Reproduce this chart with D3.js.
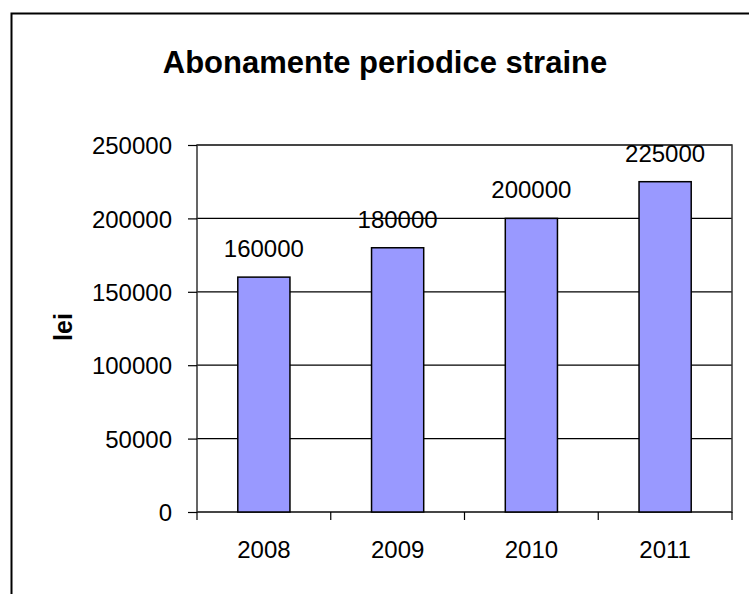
<!DOCTYPE html>
<html>
<head>
<meta charset="utf-8">
<script src="https://cdn.jsdelivr.net/npm/d3@7"></script>
<style>
  body { margin: 0; background: #fff; }
  text { font-family: "Liberation Sans", Arial, sans-serif; }
</style>
</head>
<body>
<div id="chart"></div>
<script>
// data
var years = ["2008", "2009", "2010", "2011"];
var values = [160000, 180000, 200000, 225000];
var yTicks = [0, 50000, 100000, 150000, 200000, 250000];

var W = 749, H = 594;
var margin = {top: 145, right: 17, bottom: 82, left: 197};
var width = W - margin.left - margin.right,
    height = H - margin.top - margin.bottom;

var svg = d3.select("#chart").append("svg")
  .attr("width", W)
  .attr("height", H);

// outer chart border (runs off the right/bottom edge)
svg.append("rect")
  .attr("x", 11.5).attr("y", 13.5)
  .attr("width", W + 20).attr("height", H + 20)
  .attr("fill", "none").attr("stroke", "#000").attr("stroke-width", 2);

// title
svg.append("text")
  .attr("x", 385).attr("y", 73)
  .attr("text-anchor", "middle")
  .attr("font-size", 31).attr("font-weight", "bold")
  .text("Abonamente periodice straine");

var g = svg.append("g")
  .attr("transform", "translate(" + margin.left + "," + margin.top + ")");

var x = d3.scaleBand().domain(years).range([0, width])
  .paddingInner(0.61).paddingOuter(0.305);
var y = d3.scaleLinear().domain([0, 250000]).range([height, 0]);

// gridlines
g.selectAll(".grid").data(yTicks).enter().append("line")
  .attr("x1", 0).attr("x2", width)
  .attr("y1", function(d) { return y(d); })
  .attr("y2", function(d) { return y(d); })
  .attr("stroke", "#000").attr("stroke-width", 1.2);

// plot area border
g.append("rect")
  .attr("width", width).attr("height", height)
  .attr("fill", "none").attr("stroke", "#333").attr("stroke-width", 1.5);

// bars
g.selectAll(".bar").data(values).enter().append("rect")
  .attr("x", function(d, i) { return x(years[i]); })
  .attr("y", function(d) { return y(d); })
  .attr("width", x.bandwidth())
  .attr("height", function(d) { return height - y(d); })
  .attr("fill", "#9999ff").attr("stroke", "#000").attr("stroke-width", 1.5);

// data labels
g.selectAll(".lbl").data(values).enter().append("text")
  .attr("x", function(d, i) { return x(years[i]) + x.bandwidth() / 2; })
  .attr("y", function(d) { return y(d) - 20; })
  .attr("text-anchor", "middle")
  .attr("font-size", 24)
  .text(function(d) { return d; });

// y axis
var yAxis = g.append("g")
  .call(d3.axisLeft(y).tickValues(yTicks).tickSize(9).tickPadding(16)
    .tickFormat(function(d) { return d; }));
yAxis.select(".domain").remove();
yAxis.selectAll("line").attr("stroke", "#000").attr("stroke-width", 1.2);
yAxis.selectAll("text").attr("font-size", 24).attr("fill", "#000")
  .attr("dy", "0.36em");

// x axis
var xAxis = g.append("g")
  .attr("transform", "translate(0," + height + ")")
  .call(d3.axisBottom(x).tickSize(0).tickPadding(29));
xAxis.select(".domain").remove();
xAxis.selectAll("text").attr("font-size", 24).attr("fill", "#000");

// x tick marks between categories
var sep = d3.range(years.length + 1).map(function(i) { return i * width / years.length; });
g.selectAll(".xt").data(sep).enter().append("line")
  .attr("x1", function(d) { return d; }).attr("x2", function(d) { return d; })
  .attr("y1", height).attr("y2", height + 8)
  .attr("stroke", "#000").attr("stroke-width", 1.2);

// y axis label
svg.append("text")
  .attr("transform", "translate(72,327) rotate(-90)")
  .attr("text-anchor", "middle")
  .attr("font-size", 25).attr("font-weight", "bold")
  .text("lei");
</script>
</body>
</html>
